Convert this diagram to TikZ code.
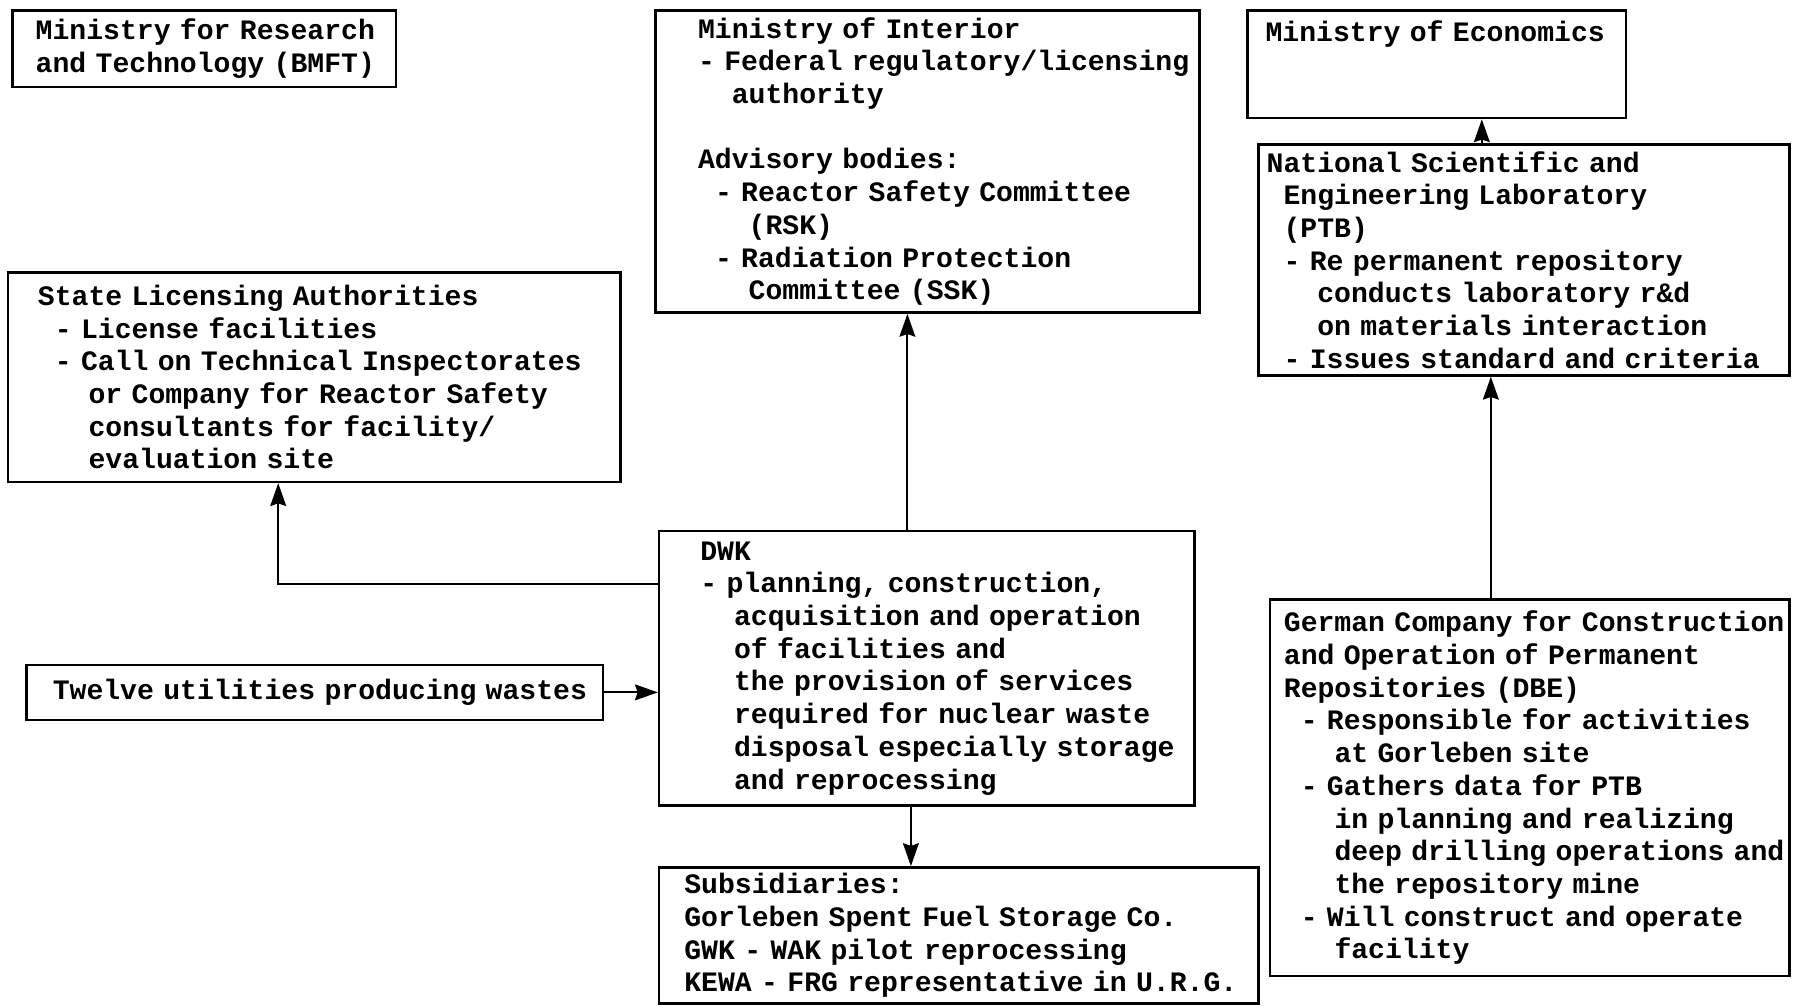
\documentclass[tikz,border=0pt]{standalone}
\usepackage{fontspec}
\newfontfamily\typefont{Liberation Mono}
\usepackage{tikz}
\usetikzlibrary{arrows, arrows.meta}
\usetikzlibrary{calc}
\newcommand{\ind}[1]{\hspace*{#1\fontcharwd\font`x}}
\tikzstyle{box} = [rectangle, anchor=north west, align=left, draw = black, line width=1.5pt, inner xsep=0.1cm, inner ysep=0pt, font=\typefont\bfseries\fontsize{16}{18.6}\selectfont]
\tikzstyle{arrow} = [-{Stealth[length=13pt,width=9pt,inset=1.5pt]}, line width=1.2pt]
\tikzset{textleft/.style={execute at begin node={\setlength{\leftskip}{#1}\setlength{\rightskip}{-3cm plus 1fil}}}}

\begin{document}
\begin{tikzpicture}
	\useasboundingbox (0,0) rectangle (35.88,-20.12);
	\node (BMFT) [box, text width=7.465cm, minimum height=1.533cm, textleft=0.358cm] at (0.229,-0.183) {Ministry for Research\\and Technology (BMFT)};
	\node (Interior) [box, text width=10.668cm, minimum height=6.041cm, textleft=0.747cm] at (13.089,-0.183) {Ministry of Interior\\- Federal regulatory/licensing\\\ind{2}authority\\[18.6pt]Advisory bodies:\\\ind{1}- Reactor Safety Committee\\\ind{3}(RSK)\\\ind{1}- Radiation Protection\\\ind{3}Committee (SSK)};
	\node (Economics) [box, text width=7.374cm, minimum height=2.151cm, textleft=0.266cm] at (24.918,-0.183) {Ministry of Economics\\\mbox{}\\\mbox{}};
	\node (PTB) [box, text width=10.418cm, minimum height=4.622cm, textleft=0.06cm] at (25.147,-2.860) {National Scientific and\\\ind{1}Engineering Laboratory\\\ind{1}(PTB)\\\ind{1}- Re permanent repository\\\ind{3}conducts laboratory r\&d\\\ind{3}on materials interaction\\\ind{1}- Issues standard and criteria};
	\node (State) [box, text width=12.042cm, minimum height=4.187cm, textleft=0.495cm] at (0.137,-5.423) {State Licensing Authorities\\\ind{1}- License facilities\\\ind{1}- Call on Technical Inspectorates\\\ind{3}or Company for Reactor Safety\\\ind{3}consultants for facility/\\\ind{3}evaluation site};
	\node (DWK) [box, text width=10.509cm, minimum height=5.492cm, textleft=0.724cm] at (13.157,-10.594) {DWK\\- planning, construction,\\\ind{2}acquisition and operation\\\ind{2}of facilities and\\\ind{2}the provision of services\\\ind{2}required for nuclear waste\\\ind{2}disposal especially storage\\\ind{2}and reprocessing};
	\node (Utilities) [box, text width=11.333cm, minimum height=1.098cm, textleft=0.426cm] at (0.503,-13.272) {Twelve utilities producing wastes};
	\node (Subs) [box, text width=11.79cm, minimum height=2.72cm, textleft=0.403cm] at (13.157,-17.322) {Subsidiaries:\\Gorleben Spent Fuel Storage Co.\\GWK - WAK pilot reprocessing\\KEWA - FRG representative in U.R.G.};
	\node (DBE) [box, text width=10.189cm, minimum height=7.528cm, textleft=0.175cm] at (25.376,-11.967) {German Company for Construction\\and Operation of Permanent\\Repositories (DBE)\\\ind{1}- Responsible for activities\\\ind{3}at Gorleben site\\\ind{1}- Gathers data for PTB\\\ind{3}in planning and realizing\\\ind{3}deep drilling operations and\\\ind{3}the repository mine\\\ind{1}- Will construct and operate\\\ind{3}facility};
	\coordinate (a1) at ([xshift=-0.39cm]DWK.north);
	\coordinate (s1) at ([yshift=1.693cm]DWK.west);
	\coordinate (s2) at ([xshift=-0.72cm]State.south);
	\coordinate (d1) at ([xshift=-0.32cm]DWK.south);
	\coordinate (p1) at ([xshift=-0.78cm]DBE.north);
	\coordinate (e1) at ([xshift=0.905cm]Economics.south);
	\draw [arrow](a1) -- (a1 |- Interior.south);
	\draw [arrow](s1) -| (s2);
	\draw [arrow](Utilities.east) -- (Utilities.east -| DWK.west);
	\draw [arrow](d1) -- (d1 |- Subs.north);
	\draw [arrow](p1) -- (p1 |- PTB.south);
	\draw [arrow](e1 |- PTB.north) -- (e1);
\end{tikzpicture}
\end{document}
